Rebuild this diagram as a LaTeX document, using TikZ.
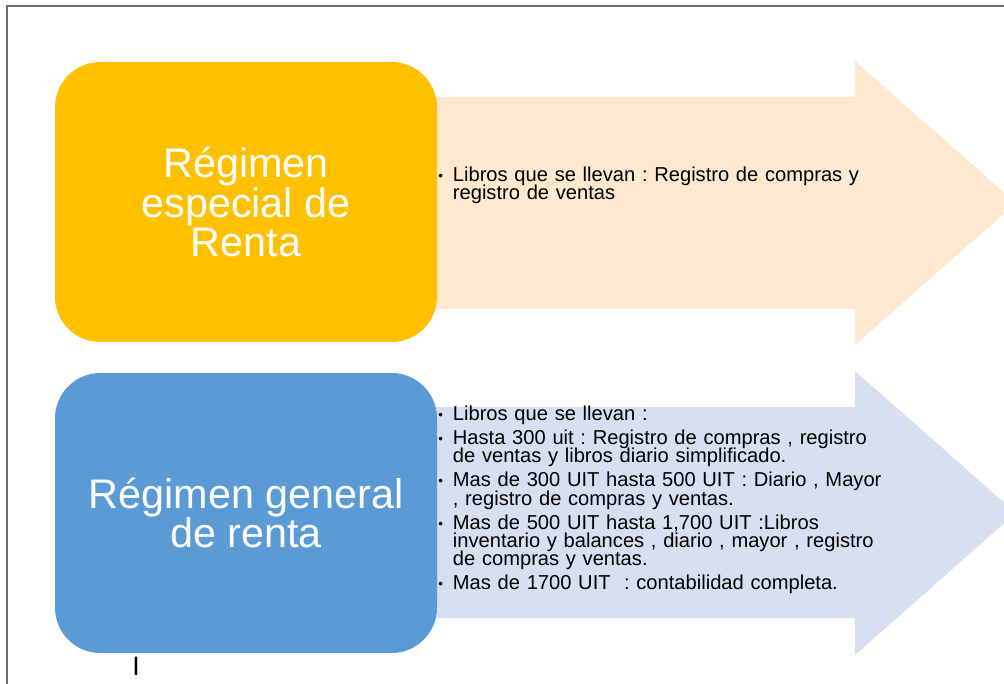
\documentclass[tikz,border=0pt]{standalone}
\usepackage{fontspec}
\setmainfont{Liberation Sans}
\definecolor{regyellow}{RGB}{255, 192, 0}
\definecolor{regblue}{RGB}{91, 155, 213}
\definecolor{peach}{RGB}{254, 232, 207}
\definecolor{paleblue}{RGB}{214, 224, 241}
\definecolor{framegray}{RGB}{110, 110, 110}
\usetikzlibrary{positioning}
\newcommand{\bul}{\noindent\hangindent=11pt\hangafter=1\makebox[11pt][l]{\raisebox{0.8pt}{\fontsize{10}{10}\selectfont\textbullet}}}

\begin{document}
\begin{tikzpicture}[x=0.75pt, y=-0.75pt,
  rbox/.style={rounded corners=34pt, minimum width=286.5pt, minimum height=210pt, inner sep=0pt,
    text=white, align=center, font=\fontsize{31}{29.3}\selectfont},
  bullets/.style={anchor=north west, inner sep=0pt, text width=350pt, align=left,
    font=\fontsize{15.1}{13.6}\selectfont,
    execute at begin node={\frenchspacing\lineskiplimit=-20pt\lineskip=0pt\setlength{\parskip}{4.4pt}}}
]
  \useasboundingbox (0,0) rectangle (1004,684);
  \draw[framegray, line width=1.5pt] (7,684) -- (7,6) -- (1004,6);

  \fill[peach] (420,97) -- (855,97) -- (855,61) -- (1016,203) -- (855,345) -- (855,309) -- (420,309) -- cycle;
  \fill[paleblue] (420,407) -- (855,407) -- (855,371) -- (1016,513) -- (855,655) -- (855,618) -- (420,618) -- cycle;

  \node[rbox, fill=regyellow] (especial) at (246,202) {R\'egimen\\especial de\\Renta};
  \node[rbox, fill=regblue] (general) at (246,513) {R\'egimen general\\de renta};

  \node[bullets] (especialtxt) at (438,167) {
    \bul Libros que se llevan : Registro de compras y\newline registro de ventas\par};
  \node[bullets] (generaltxt) at (438,406) {
    \bul Libros que se llevan :\par
    \bul Hasta 300 uit : Registro de compras , registro\newline de ventas y libros diario simplificado.\par
    \bul Mas de 300 UIT hasta 500 UIT : Diario , Mayor\newline , registro de compras y ventas.\par
    \bul Mas de 500 UIT hasta 1,700 UIT :Libros\newline inventario y balances , diario , mayor , registro\newline de compras y ventas.\par
    \bul Mas de 1700 UIT\ \ : contabilidad completa.\par};

  \node[inner sep=0pt, font=\fontsize{20}{20}\selectfont] (cursor) at (136,666) {I};
\end{tikzpicture}
\end{document}
